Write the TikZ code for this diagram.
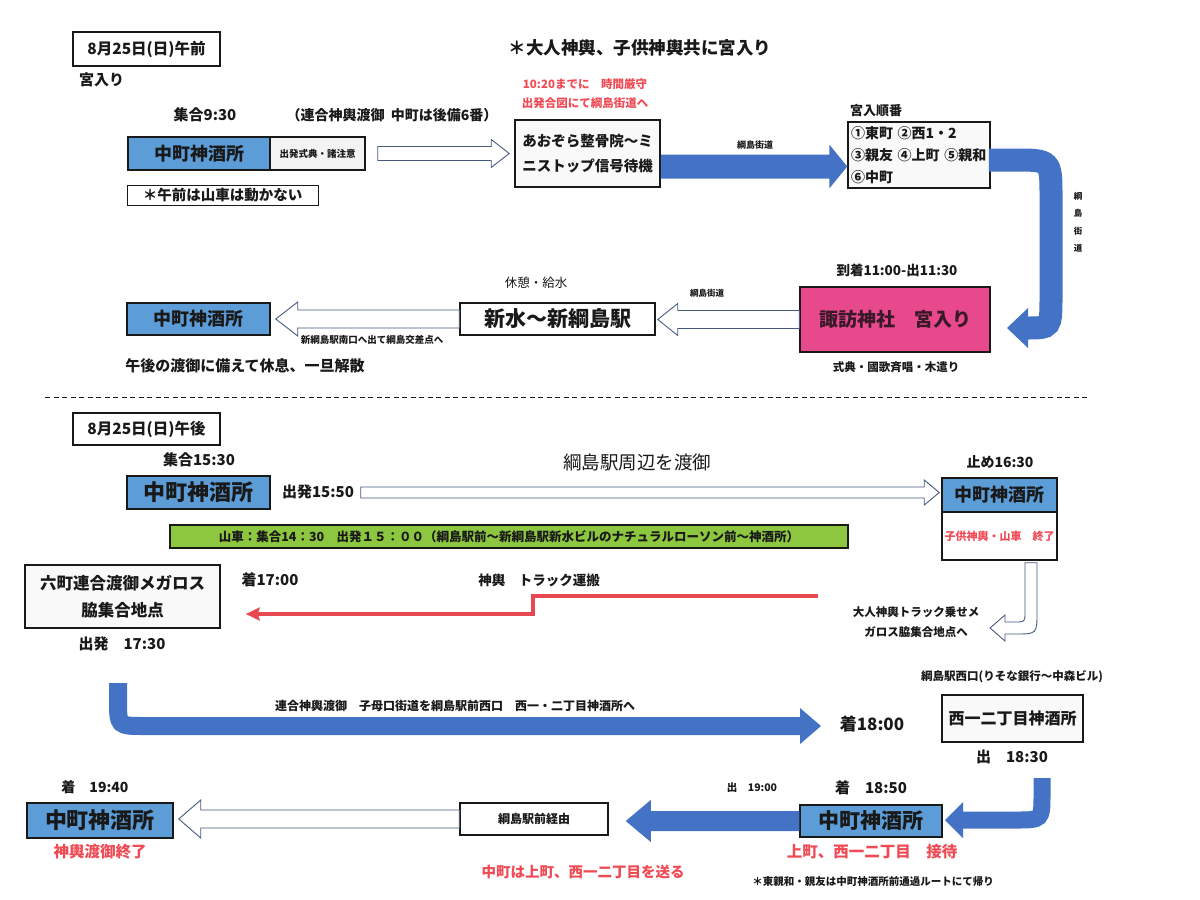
\documentclass[tikz,border=0pt]{standalone}
\usepackage{fontspec}
\setmainfont{Noto Sans CJK JP}
\usetikzlibrary{calc,arrows.meta}
\definecolor{ink}{RGB}{25,25,25}
\definecolor{boxblue}{RGB}{92,157,216}
\definecolor{arrowblue}{RGB}{68,114,196}
\definecolor{pinkbox}{RGB}{232,72,140}
\definecolor{redtxt}{RGB}{240,75,85}
\definecolor{redline}{RGB}{232,72,80}
\definecolor{greenbox}{RGB}{141,198,63}
\definecolor{lightgray}{RGB}{243,243,243}
\definecolor{hollowc}{RGB}{70,90,125}
\newcommand\blockarrow[6][]{%
  \path[#1] let \p1=(#2), \p2=(#3), \n1={sign(\x2-\x1)*(#6)} in
  (\x1,\y1-#4) -- ({\x2-\n1*1pt},\y1-#4) -- ({\x2-\n1*1pt},\y1-#5) -- (\x2,\y1) --
  ({\x2-\n1*1pt},\y1+#5) -- ({\x2-\n1*1pt},\y1+#4) -- (\x1,\y1+#4) -- cycle;}
\begin{document}
\begin{tikzpicture}[x=1pt,y=-1pt,
  tx/.style={inner sep=0pt, text=ink, font=\bfseries\fontsize{#1}{#1}\selectfont},
  rg/.style={inner sep=0pt, text=ink, font=\fontsize{#1}{#1}\selectfont},
  bx/.style={draw=ink, line width=1.5pt, align=center},
  bbox/.style={bx, fill=boxblue},
  wbox/.style={bx, fill=white},
  gbox/.style={bx, fill=lightgray},
  hollow/.style={draw=hollowc, line width=0.9pt, fill=white},
  bluefill/.style={fill=arrowblue},
  band/.style={draw=arrowblue, line width=#1},
  redt/.style={text=redtxt}]
\useasboundingbox[fill=white] (0,0) rectangle (1200,900);

% ================= morning =================
\node[wbox, tx=15.5, minimum width=147pt, minimum height=34pt] (dateam) at (146.5,49) {8月25日(日)午前};
\node[tx=15, anchor=west] (miyairi) at (79,80) {宮入り};
\node[tx=15] (shugo1) at (205,115) {集合9:30};
\node[tx=14] (rengo) at (392,115) {（連合神輿渡御\ \ 中町は後備6番）};
\node[bbox, tx=18, minimum width=142pt, minimum height=33pt] (nakaA) at (199,153.5) {中町神酒所};
\node[gbox, tx=9.5, minimum width=95pt, minimum height=33pt] (shiki) at (317.5,153.5) {出発式典・諸注意};
\node[wbox, line width=1pt, tx=14.5, minimum width=191pt, minimum height=20pt] (note) at (222.5,195) {＊午前は山車は動かない};
\node[tx=17.5] (otona) at (640,48) {＊大人神輿、子供神輿共に宮入り};
\node[tx=11.5, redt] (red1) at (585,84) {10:20までに\quad 時間厳守};
\node[tx=11.5, redt] (red2) at (585,103) {出発合図にて綱島街道へ};
\node[gbox, fill=white!50!lightgray, tx=14.5, minimum width=145pt, minimum height=67pt] (aozora) at (587.5,153.5) {あおぞら整骨院〜ミ\\[10pt]ニストップ信号待機};
\node[tx=13, anchor=west] (junban) at (850,111) {宮入順番};
\node[gbox, fill=white!50!lightgray, tx=14, text width=136pt, inner xsep=3pt, minimum height=66pt, align=left] (order) at (919,155) {①東町 ②西1・2\\[8pt]③親友 ④上町 ⑤親和\\[8pt]⑥中町};
\node[tx=13.5] (tochaku) at (897,270) {到着11:00-出11:30};
\node[bx, fill=pinkbox, tx=19, text={rgb,255:red,55;green,25;blue,40}, minimum width=190pt, minimum height=65pt] (suwa) at (895,319.5) {諏訪神社\quad 宮入り};
\node[tx=11.5] (shikiten) at (896,367) {式典・國歌斉唱・木遣り};
\node[wbox, tx=21, minimum width=195pt, minimum height=32pt] (shinsui) at (557.5,319) {新水〜新綱島駅};
\node[rg=12.5] (kyukei) at (536,283) {休憩・給水};
\node[bbox, tx=18, minimum width=143pt, minimum height=32pt] (nakaB) at (198.5,319) {中町神酒所};
\node[tx=9] (kaido1) at (755,145) {綱島街道};
\node[tx=8.5] (kaido2) at (707,293) {綱島街道};
\node[tx=8.5, align=center] (kaido3) at (1078,222) {綱\\[9pt]島\\[9pt]街\\[9pt]道};
\node[tx=9.5] (minami) at (372,340) {新綱島駅南口へ出て綱島交差点へ};
\node[tx=15] (kyusoku) at (245,366) {午後の渡御に備えて休息、一旦解散};

% arrows (morning)
\blockarrow[hollow]{$(shiki.east)+(12,0)$}{$(aozora.west)+(-5,0)$}{7pt}{14pt}{18}
\blockarrow[bluefill]{$(aozora.east)+(0,13)$}{$(order.west)+(0,0)$}{12pt}{22pt}{18}
\draw[band=23pt] ($(order.east)+(-2,5)$) -- (1014,160) .. controls (1051,160) .. (1051,197) -- (1051,296) .. controls (1051,328) .. (1027,328);
\fill[arrowblue] (1028,308) -- (1007,328) -- (1028,348) -- cycle;
\blockarrow[hollow]{suwa.west}{$(shinsui.east)+(2,0)$}{9pt}{16pt}{20}
\blockarrow[hollow]{shinsui.west}{$(nakaB.east)+(5,0)$}{9pt}{17pt}{22}

% dashed separator
\coordinate (dl) at (45,397);
\coordinate (dr) at (1090,397);
\draw[ink, line width=1pt, dash pattern=on 5pt off 3.5pt] (dl) -- (dr);

% ================= afternoon =================
\node[wbox, tx=15.5, minimum width=147pt, minimum height=32pt] (datepm) at (146.5,429) {8月25日(日)午後};
\node[tx=15] (shugo2) at (199,460) {集合15:30};
\node[bbox, tx=22, minimum width=143pt, minimum height=33pt] (nakaC) at (198.5,492.5) {中町神酒所};
\node[tx=15] (shuppatsu) at (318,492) {出発15:50};
\node[rg=18.5] (shuhen) at (637,462) {綱島駅周辺を渡御};
\node[tx=14] (tome) at (1000,462) {止め16:30};
\node[bx, fill=white, minimum width=115pt, minimum height=48pt] (endbox) at (999.5,536) {};
\node[bbox, tx=18, minimum width=115pt, minimum height=34pt] (nakaD) at (999.5,495) {中町神酒所};
\node[tx=11, redt] (kodomo) at (999.5,536) {子供神輿・山車\quad 終了};
\node[bx, fill=greenbox, tx=12.5, minimum width=678pt, minimum height=23pt] (dashi) at (509,536.5) {山車：集合14：30\quad 出発１５：００（綱島駅前〜新綱島駅新水ビルのナチュラルローソン前〜神酒所）};
\blockarrow[hollow]{$(nakaC.east)+(90,0)$}{$(nakaD.west)+(-2,-3)$}{5.5pt}{12.5pt}{15}

% U-turn hollow arrow
\coordinate (ut) at (endbox.south -| 1031,0);
\path[hollow] ($(ut)+(-6,2)$) -- (1025,612) .. controls (1025,622) .. (1015,622) -- (1005,622) -- (1005,615) -- (990,628) -- (1005,641) -- (1005,634) -- (1015,634) .. controls (1037,634) .. (1037,612) -- ($(ut)+(6,2)$) -- cycle;
\node[tx=11.5, align=center] (truck) at (916,622) {大人神輿トラック乗せメ\\[8pt]ガロス脇集合地点へ};

\node[gbox, fill=white!50!lightgray, tx=16.5, minimum width=195pt, minimum height=63pt] (rokucho) at (122.5,596.5) {六町連合渡御メガロス\\[10pt]脇集合地点};
\node[tx=15] (dep1730) at (122,644) {出発\quad 17:30};
\node[tx=15] (arr1700) at (270,580) {着17:00};
\node[tx=13.5] (unpan) at (539,580) {神輿\quad トラック運搬};
\coordinate (rs) at (818,596);
\coordinate (re) at ($(rokucho.east)+(25,17.5)$);
\draw[redline, line width=4pt, -{Stealth[length=14pt,width=13pt,inset=2pt]}] (rs) -- (533,596) -- (533,614) -- (re);

% L-shaped blue arrow
\coordinate (ls) at (118,683);
\draw[band=18pt] (ls) -- (118,700) .. controls (118,726) .. (144,726) -- (801,726);
\fill[arrowblue] (800,708) -- (821,726) -- (800,744) -- cycle;
\node[tx=12] (rengo2) at (455,706) {連合神輿渡御\quad 子母口街道を綱島駅前西口\quad 西一・二丁目神酒所へ};
\node[tx=17] (arr1800) at (872,724) {着18:00};
\node[tx=11.5] (nishiguchi) at (1012,677) {綱島駅西口(りそな銀行〜中森ビル)};
\node[gbox, fill=white!50!lightgray, tx=16, minimum width=141pt, minimum height=47pt] (nishi) at (1012.5,718.5) {西一二丁目神酒所};
\node[tx=15] (dep1830) at (1012,757) {出\quad 18:30};

% bottom row
\node[bbox, tx=21, minimum width=142pt, minimum height=32pt] (nakaE) at (871,821) {中町神酒所};
\coordinate (bs) at (1042,778);
\draw[band=17pt] (bs) -- (1042,794) .. controls (1042,820) .. (1016,820) -- (962,820);
\fill[arrowblue] (963,802) -- (945,820) -- (963,838) -- cycle;
\node[tx=10.5] (dep1900) at (752,788) {出\quad 19:00};
\node[tx=15] (arr1850) at (871,788) {着\quad 18:50};
\node[tx=15.5, redt] (settai) at (872,852) {上町、西一二丁目\quad 接待};
\node[tx=10.5] (higashi) at (873,881) {＊東親和・親友は中町神酒所前通過ルートにて帰り};
\node[wbox, tx=12, minimum width=148pt, minimum height=32pt] (keiyu) at (534,819) {綱島駅前経由};
\blockarrow[bluefill]{nakaE.west}{$(keiyu.east)+(17,0)$}{10pt}{21pt}{25}
\node[tx=14.5, redt] (okuru) at (583,872) {中町は上町、西一二丁目を送る};
\node[bbox, tx=22, minimum width=146pt, minimum height=35pt] (nakaF) at (100,820.5) {中町神酒所};
\blockarrow[hollow]{keiyu.west}{$(nakaF.east)+(5,0)$}{9pt}{19pt}{22}
\node[tx=14] (arr1940) at (95,787) {着\quad 19:40};
\node[tx=15.5, redt] (shuryo) at (100,852) {神輿渡御終了};
\end{tikzpicture}
\end{document}
